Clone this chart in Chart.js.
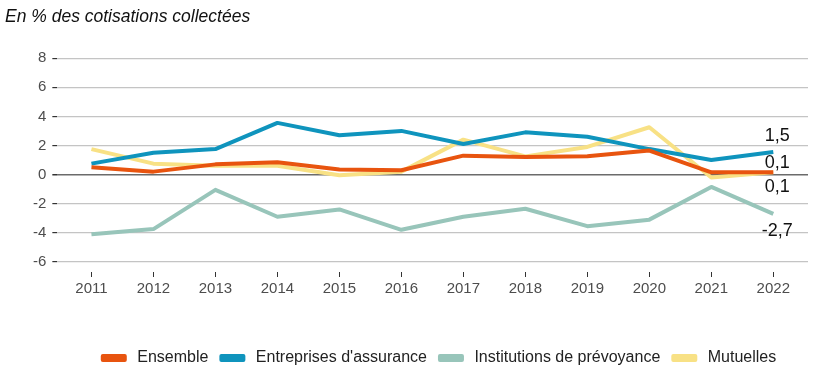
<!DOCTYPE html>
<html>
<head>
<meta charset="utf-8">
<script src="https://cdn.jsdelivr.net/npm/chart.js@4"></script>
<style>
  html, body { margin: 0; padding: 0; background: #fff; }
  #wrap { width: 829px; height: 366px; position: relative; }
</style>
</head>
<body>
<div id="wrap"><canvas id="chart"></canvas></div>
<script>
// data
const years = [2011, 2012, 2013, 2014, 2015, 2016, 2017, 2018, 2019, 2020, 2021, 2022];
const ensemble = [0.5, 0.2, 0.7, 0.85, 0.35, 0.3, 1.3, 1.2, 1.25, 1.65, 0.15, 0.15];
const entreprises = [0.75, 1.5, 1.75, 3.55, 2.7, 3.0, 2.1, 2.9, 2.6, 1.75, 1.0, 1.55];
const institutions = [-4.1, -3.75, -1.05, -2.9, -2.4, -3.8, -2.9, -2.35, -3.55, -3.1, -0.85, -2.7];
const mutuelles = [1.75, 0.75, 0.6, 0.6, -0.05, 0.2, 2.4, 1.25, 1.9, 3.25, -0.2, 0.15];
const endLabels = ["0,1", "1,5", "-2,7", "0,1"];
const yTicks = [-6, -4, -2, 0, 2, 4, 6, 8];
const subtitle = "En % des cotisations collectées";

const font = "'Liberation Sans', Arial, sans-serif";

function pts(values) {
    return years.map((y, i) => ({ x: y, y: values[i] }));
}

// label offsets (px) relative to each series' last point
const labelOffsets = [[4, -9], [4, -16], [4, 17], [4, 15]];

const endLabelPlugin = {
    id: "endLabels",
    afterLayout(c) {
        // legend sits a bit right of the plot centre in the original
        c.legend.left += 22;
        c.legend.right += 22;
    },
    afterDatasetsDraw(c) {
        const ctx = c.ctx;
        ctx.save();
        ctx.font = "18px " + font;
        ctx.fillStyle = "#111";
        ctx.textAlign = "center";
        ctx.textBaseline = "middle";
        c.data.datasets.forEach((ds, i) => {
            const meta = c.getDatasetMeta(i);
            const p = meta.data[meta.data.length - 1];
            ctx.fillText(endLabels[i], p.x + labelOffsets[i][0], p.y + labelOffsets[i][1]);
        });
        // top-left caption
        ctx.font = "italic 17.5px " + font;
        ctx.textAlign = "left";
        ctx.textBaseline = "alphabetic";
        ctx.fillText(subtitle, 5, 22);
        ctx.restore();
    }
};

const ctx = document.getElementById("chart");

new Chart(ctx, {
    type: "line",
    data: {
        datasets: [
            { label: " Ensemble", data: pts(ensemble), borderColor: "#e8540f", backgroundColor: "#e8540f" },
            { label: " Entreprises d'assurance", data: pts(entreprises), borderColor: "#0f94bd", backgroundColor: "#0f94bd" },
            { label: " Institutions de prévoyance", data: pts(institutions), borderColor: "#98c5ba", backgroundColor: "#98c5ba" },
            { label: " Mutuelles", data: pts(mutuelles), borderColor: "#f8e185", backgroundColor: "#f8e185" }
        ]
    },
    options: {
        responsive: true,
        maintainAspectRatio: false,
        animation: false,
        elements: {
            line: { borderWidth: 4, tension: 0, borderJoinStyle: "round" },
            point: { radius: 0 }
        },
        layout: { padding: { left: 27, right: 21, top: 48, bottom: -10 } },
        scales: {
            x: {
                type: "linear",
                min: 2010.45,
                max: 2022.56,
                afterBuildTicks: axis => { axis.ticks = years.map(v => ({ value: v })); },
                afterFit: axis => { axis.height = 65; },
                ticks: {
                    callback: v => String(v),
                    color: "#4d4d4d",
                    font: { family: font, size: 15 },
                    padding: 3,
                    maxRotation: 0
                },
                grid: { drawOnChartArea: false, tickLength: 5, tickColor: "#333", lineWidth: 1 },
                border: { display: false }
            },
            y: {
                min: -6.7,
                max: 8.7,
                afterBuildTicks: axis => { axis.ticks = yTicks.map(v => ({ value: v })); },
                ticks: {
                    color: "#4d4d4d",
                    font: { family: font, size: 15 },
                    padding: 6
                },
                grid: {
                    color: c => c.tick && c.tick.value === 0 ? "#6b6b6b" : "#c4c4c4",
                    lineWidth: c => c.tick && c.tick.value === 0 ? 1.5 : 1.2,
                    tickLength: 5,
                    tickColor: "#333"
                },
                border: { display: false }
            }
        },
        plugins: {
            title: { display: false },
            legend: {
                position: "bottom",
                labels: {
                    boxWidth: 22,
                    boxHeight: 4,
                    color: "#222",
                    font: { family: font, size: 16 },
                    padding: 13
                }
            },
            tooltip: { enabled: false }
        }
    },
    plugins: [endLabelPlugin]
});
</script>
</body>
</html>
